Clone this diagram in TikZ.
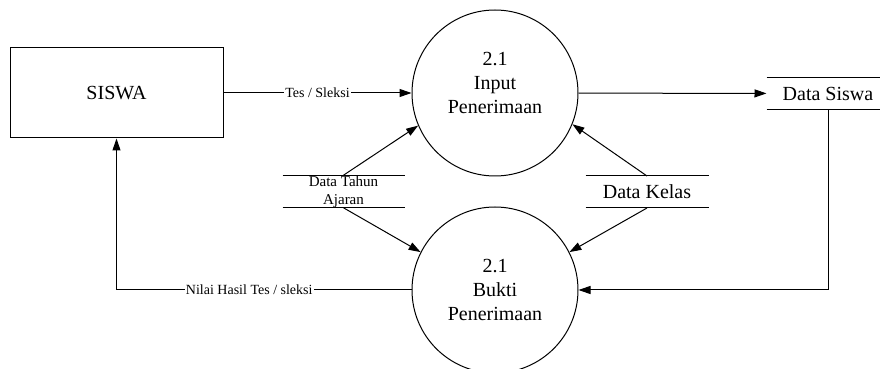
\documentclass[tikz,border=0pt]{standalone}
\usepackage{fontspec}
\setmainfont{Liberation Serif}
\usetikzlibrary{arrows.meta}

\tikzset{
  proses/.style={circle, draw, minimum size=83pt, inner sep=0pt, align=center,
    font=\fontsize{10}{12.2}\selectfont},
  teks/.style={align=center, inner sep=0pt, font=\fontsize{10}{12.2}\selectfont},
  entitas/.style={rectangle, draw, minimum width=106.5pt, minimum height=45pt,
    font=\fontsize{10}{12}\selectfont},
  simpan/.style={minimum width=61pt, minimum height=15.5pt, inner sep=0pt, align=center,
    font=\fontsize{10}{12}\selectfont},
  alir/.style={-{Triangle[length=6pt,width=4pt]}},
  ket/.style={fill=white, inner sep=0.5pt, font=\fontsize{7}{8}\selectfont},
}

\begin{document}
\begin{tikzpicture}[x=0.5pt, y=-0.5pt, line width=0.5pt]
			\useasboundingbox (0,0) rectangle (880,369);
			\clip (0,0) rectangle (880,369);
			% entitas luar
			\node[entitas] (siswa) at (116.5,93) {SISWA};
			% proses
			\node[proses] (c1) at (495,93) {};
			\node[teks] (t1) at (495,83) {2.1\\Input\\Penerimaan};
			\node[proses] (c2) at (495,290) {2.1\\Bukti\\Penerimaan};
			% data store
			\node[simpan] (ds) at (828,93.5) {Data Siswa};
			\node[simpan] (kelas) at (647,192) {Data Kelas};
			\node[simpan, minimum width=60.5pt, font=\fontsize{7.5}{9}\selectfont]
				(tahun) at (343.5,191.5) {Data Tahun\\Ajaran};
			\foreach \s in {ds,kelas,tahun}
				\draw (\s.north west) -- (\s.north east) (\s.south west) -- (\s.south east);
			% aliran data
			\draw[alir] (siswa) -- node[ket]{Tes / Sleksi} (c1);
			\draw[alir] (c1) -- (ds);
			\draw[alir] (ds.south) |- (c2);
			\draw[alir] (c2) -- node[ket, pos=0.55]{Nilai Hasil Tes / sleksi} (c2 -| siswa) -- (siswa);
			\draw[alir] (tahun.north) -- (c1.203);
			\draw[alir] (tahun.south) -- (c2.153);
			\draw[alir] (kelas.north) -- (c1.338);
			\draw[alir] (kelas.south) -- (c2.27);
		\end{tikzpicture}
\end{document}
